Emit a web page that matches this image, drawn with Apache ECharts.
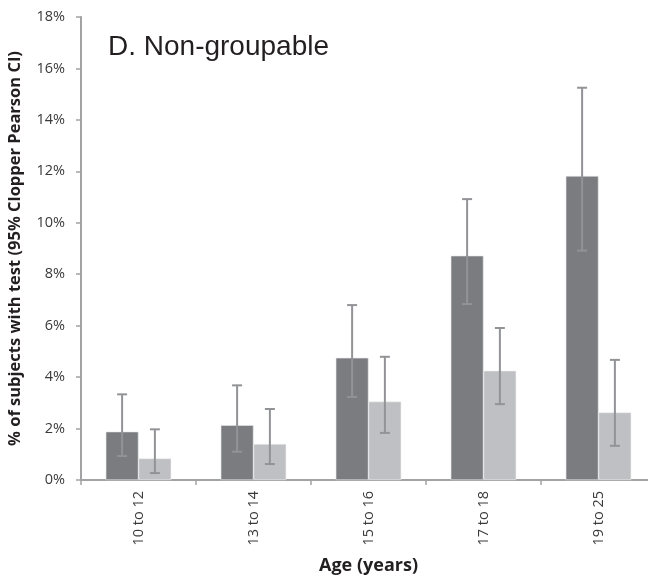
<!DOCTYPE html>
<html>
<head>
<meta charset="utf-8">
<script src="https://cdn.jsdelivr.net/npm/echarts@6/dist/echarts.min.js"></script>
<style>
  html, body { margin: 0; padding: 0; background: #fff; }
  #chart { width: 648px; height: 581px; }
</style>
</head>
<body>
<div id="chart"></div>
<script>
// Age groups on the category axis
const ageGroups = ['10 to 12', '13 to 14', '15 to 16', '17 to 18', '19 to 25'];

// Percent of subjects with the test, two groups per age band
const darkValues = [1.88, 2.13, 4.75, 8.72, 11.82];
const darkLow    = [0.93, 1.10, 3.23, 6.84, 8.92];
const darkHigh   = [3.33, 3.68, 6.80, 10.92, 15.25];

const lightValues = [0.84, 1.40, 3.05, 4.25, 2.63];
const lightLow    = [0.27, 0.62, 1.83, 2.95, 1.33];
const lightHigh   = [1.97, 2.76, 4.79, 5.91, 4.67];

const yTicks = [0, 2, 4, 6, 8, 10, 12, 14, 16, 18];

const BAR_FRACTION = 0.285;   // each bar's share of the category band
const axisGray = '#a3a3a6';
const errColor = '#929396';

function errorSeries(name, low, high, side) {
  return {
    name: name,
    type: 'custom',
    silent: true,
    z: 5,
    data: ageGroups.map((c, i) => [i, low[i], high[i]]),
    encode: { x: 0, y: [1, 2] },
    renderItem: function (params, api) {
      const idx = api.value(0);
      const band = api.size([1, 0])[0];
      const offset = side * band * BAR_FRACTION / 2;
      const lo = api.coord([idx, api.value(1)]);
      const hi = api.coord([idx, api.value(2)]);
      const x = lo[0] + offset;
      const cap = 5;
      const style = { stroke: errColor, lineWidth: 2, fill: null };
      return {
        type: 'group',
        children: [
          { type: 'line', shape: { x1: x, y1: lo[1], x2: x, y2: hi[1] }, style: style },
          { type: 'line', shape: { x1: x - cap, y1: lo[1], x2: x + cap, y2: lo[1] }, style: style },
          { type: 'line', shape: { x1: x - cap, y1: hi[1], x2: x + cap, y2: hi[1] }, style: style }
        ]
      };
    }
  };
}

const chart = echarts.init(document.getElementById('chart'), null, { renderer: 'canvas' });

chart.setOption({
  animation: false,
  backgroundColor: '#ffffff',
  title: {
    text: 'D. Non-groupable',
    left: 103,
    top: 28,
    textStyle: {
      fontFamily: 'Liberation Sans, Arial, sans-serif',
      fontSize: 28,
      fontWeight: 'normal',
      color: '#231f20'
    }
  },
  // plot area runs slightly past the right edge of the canvas
  grid: {
    left: 81, width: 575, top: 17, height: 463,
    containLabel: false,
    outerBoundsMode: 'none'
  },
  xAxis: {
    type: 'category',
    data: ageGroups,
    boundaryGap: true,
    name: 'Age (years)',
    nameLocation: 'middle',
    nameGap: 77,
    nameTextStyle: {
      fontFamily: 'Open Sans, DejaVu Sans, sans-serif',
      fontSize: 18,
      fontWeight: 'bold',
      color: '#231f20'
    },
    axisLine: { lineStyle: { color: axisGray, width: 2 } },
    axisTick: { show: true, length: 5, lineStyle: { color: axisGray, width: 1.5 } },
    axisLabel: {
      rotate: 90,
      margin: 11,
      fontFamily: 'Open Sans, sans-serif',
      fontSize: 14.5,
      color: '#3a3a3a'
    },
    splitLine: { show: false }
  },
  yAxis: {
    type: 'value',
    min: yTicks[0],
    max: yTicks[yTicks.length - 1],
    interval: 2,
    name: '% of subjects with test (95% Clopper Pearson CI)',
    nameLocation: 'middle',
    nameRotate: 90,
    nameGap: 57,
    nameTextStyle: {
      fontFamily: 'Open Sans, DejaVu Sans, sans-serif',
      fontSize: 16.5,
      fontWeight: 'bold',
      color: '#231f20'
    },
    axisLine: { show: true, lineStyle: { color: axisGray, width: 2 } },
    axisTick: { show: true, length: 5, lineStyle: { color: axisGray, width: 1.5 } },
    axisLabel: {
      margin: 16,
      fontFamily: 'Open Sans, sans-serif',
      fontSize: 14.5,
      color: '#3a3a3a',
      formatter: v => v + '%'
    },
    splitLine: { show: false }
  },
  series: [
    {
      name: 'dark',
      type: 'bar',
      data: darkValues,
      barWidth: (BAR_FRACTION * 100) + '%',
      barGap: '0%',
      itemStyle: { color: '#7b7c80', borderColor: '#e6e6e8', borderWidth: 0.6 }
    },
    {
      name: 'light',
      type: 'bar',
      data: lightValues,
      barWidth: (BAR_FRACTION * 100) + '%',
      barGap: '0%',
      itemStyle: { color: '#bfc0c3', borderColor: '#eeeeef', borderWidth: 0.6 }
    },
    errorSeries('darkCI', darkLow, darkHigh, -1),
    errorSeries('lightCI', lightLow, lightHigh, 1)
  ]
});
</script>
</body>
</html>
